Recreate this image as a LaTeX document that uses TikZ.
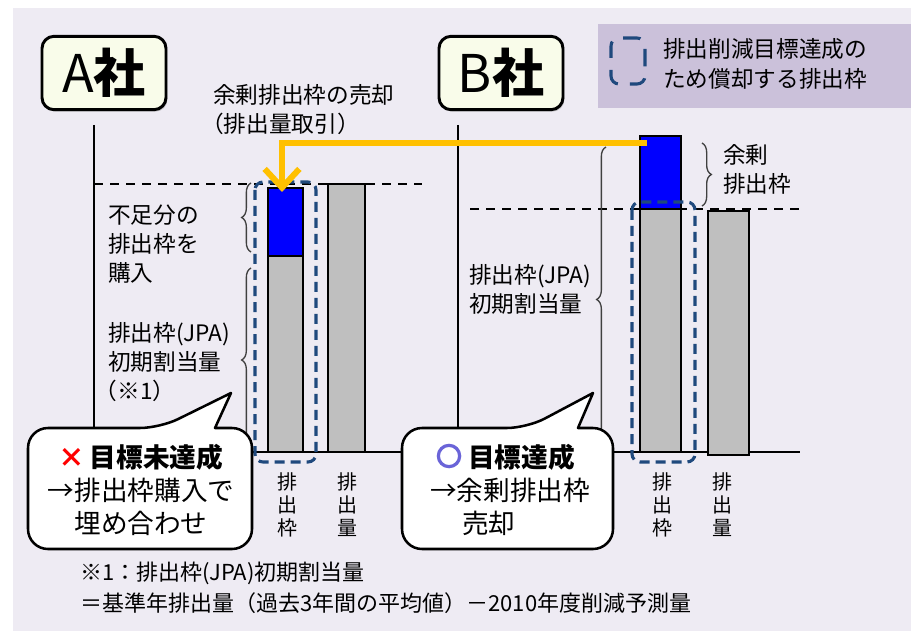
\documentclass[tikz,border=0pt]{standalone}
\usepackage{fontspec}
\setmainfont{Noto Sans CJK JP}
\usetikzlibrary{arrows.meta,decorations.pathreplacing,shadows}

\definecolor{bgcol}{HTML}{EEEBF3}
\definecolor{titlefill}{HTML}{F9FCEA}
\definecolor{legendfill}{HTML}{CBC1DA}
\definecolor{quotadash}{HTML}{1F497D}
\definecolor{barblue}{HTML}{0000FF}
\definecolor{bargray}{HTML}{BFBFBF}
\definecolor{tradeline}{HTML}{FFC000}
\definecolor{okcircle}{HTML}{6A64D8}

\begin{document}
\begin{tikzpicture}[x=0.75pt,y=-0.75pt,
    company/.style={draw=black,line width=2.2pt,rounded corners=9pt,fill=titlefill,
      minimum width=93pt,minimum height=55pt,inner sep=0pt,
      drop shadow={shadow xshift=1pt,shadow yshift=-1.5pt,fill=black!35,opacity=.6},
      font=\fontsize{39pt}{39pt}\selectfont},
    lbl/.style={anchor=west,inner sep=0pt,align=left,font=\fontsize{17pt}{21.75pt}\selectfont},
    vlbl/.style={inner sep=0pt,align=center,font=\fontsize{15pt}{17.25pt}\selectfont},
    note/.style={anchor=west,inner sep=0pt,font=\fontsize{16.5pt}{16.5pt}\selectfont},
    level/.style={dashed,line width=1pt,dash pattern=on 7pt off 5pt},
    axis/.style={line width=1.6pt},
    bar/.style={draw=black,line width=1.5pt},
    quota/.style={draw=quotadash,line width=2.3pt,rounded corners=6pt,dash pattern=on 7.5pt off 4.5pt},
    brc/.style={decorate,decoration={brace,amplitude=7pt},draw=black!75,line width=1pt},
    trade/.style={draw=tradeline,line width=4.5pt,-{Straight Barb[length=14pt,width=26pt]}},
    callout/.style={draw=black,fill=white,line width=1.9pt,line join=round},
    callouttext/.style={inner sep=0pt,align=center,font=\fontsize{20pt}{25pt}\selectfont}]

        % Canvas
        \useasboundingbox (0,0) rectangle (911,631);
        \fill[white] (0,0) rectangle (911,631);
        \fill[bgcol] (13,8) rectangle (911,631);

        % Company titles and legend
        \node[company] (Atitle) at (104,73) {A\textbf{社}};
        \node[company] (Btitle) at (501,73) {B\textbf{社}};
        \fill[legendfill] (598,24) rectangle (911,108);
        \draw[quota,dash pattern=on 13pt off 9pt,dash phase=4pt] (611,38) rectangle (645,84);
        \node[lbl,font=\fontsize{17pt}{22.5pt}\selectfont] (legend) at (663,64)
            {排出削減目標達成の\\ため償却する排出枠};

        % Axes and target levels
        \draw[level] (94,184) -- (422,184);
        \draw[level] (470,209) -- (800,209);
        \draw[axis] (94,125) -- (94,452) -- (410,452);
        \draw[axis] (458,125) -- (458,452) -- (800,452);

        % Bars of A
        \filldraw[bar,fill=bargray] (268,256) rectangle (303,452);
        \filldraw[bar,fill=barblue] (268,188) rectangle (303,256);
        \filldraw[bar,fill=bargray] (328,184) rectangle (365,452);
        % Bars of B
        \filldraw[bar,fill=bargray] (640,209) rectangle (681,452);
        \filldraw[bar,fill=barblue] (640,136) rectangle (681,209);
        \filldraw[bar,fill=bargray] (708,211) rectangle (749,455);

        % Allowances to be retired
        \draw[quota] (255,182) rectangle (316,462);
        \draw[quota] (632,202) rectangle (695,462);

        % Braces
        \draw[brc] (251,252) -- (251,183);
        \draw[brc] (251,452) -- (251,268);
        \draw[brc] (606,452) -- (606,147);
        \draw[brc] (702,143) -- (702,206);

        % Trading arrow
        \coordinate (Bsurplus) at (647,143);
        \coordinate (Abuy) at (282,192);
        \draw[trade] (Bsurplus) -| (Abuy);

        % Labels
        \node[lbl] (sell1) at (213,95) {余剰排出枠の売却};
        \node[lbl] (sell2) at (201,124) {（排出量取引）};
        \node[lbl] (Ashort) at (108,244) {不足分の\\排出枠を\\購入};
        \node[lbl] (Ainit) at (108,362) {排出枠(JPA)\\初期割当量\\\hspace{-0.6em}（※1）};
        \node[lbl] (Binit) at (469,289) {排出枠(JPA)\\初期割当量};
        \node[lbl] (Bsur) at (723,169) {余剰\\排出枠};
        \node[vlbl] (Acap) at (287,505) {排\\出\\枠};
        \node[vlbl] (Aemit) at (347,505) {排\\出\\量};
        \node[vlbl] (Bcap) at (662,505) {排\\出\\枠};
        \node[vlbl] (Bemit) at (722,505) {排\\出\\量};

        % Callouts
        \draw[callout] (231,393) -- (215,428) [rounded corners=15pt] -- (252,428) -- (252,549)
            -- (28,549) -- (28,428) -- (160,428) [sharp corners] -- cycle;
        \draw[callout] (593,393) -- (578,428) [rounded corners=15pt] -- (613,428) -- (613,549)
            -- (402,549) -- (402,428) -- (527,428) [sharp corners] -- cycle;
        \node[callouttext] (Afail) at (141,490)
            {{\color{red}\textbf{×}}\,\textbf{目標未達成}\\→排出枠購入で\\埋め合わせ};
        \node[draw=okcircle,circle,line width=2.4pt,minimum size=16pt,inner sep=0pt] (okmark) at (449,456) {};
        \node[callouttext,align=left,anchor=west] (Bok) at (430,490)
            {\hspace{28.5pt}\textbf{目標達成}\\→余剰排出枠\\\hspace{1.2em}売却};

        % Footnote
        \node[note] (fn1) at (80,573) {※1：排出枠(JPA)初期割当量};
        \node[note] (fn2) at (80,603) {＝基準年排出量（過去3年間の平均値）－2010年度削減予測量};

\end{tikzpicture}
\end{document}
